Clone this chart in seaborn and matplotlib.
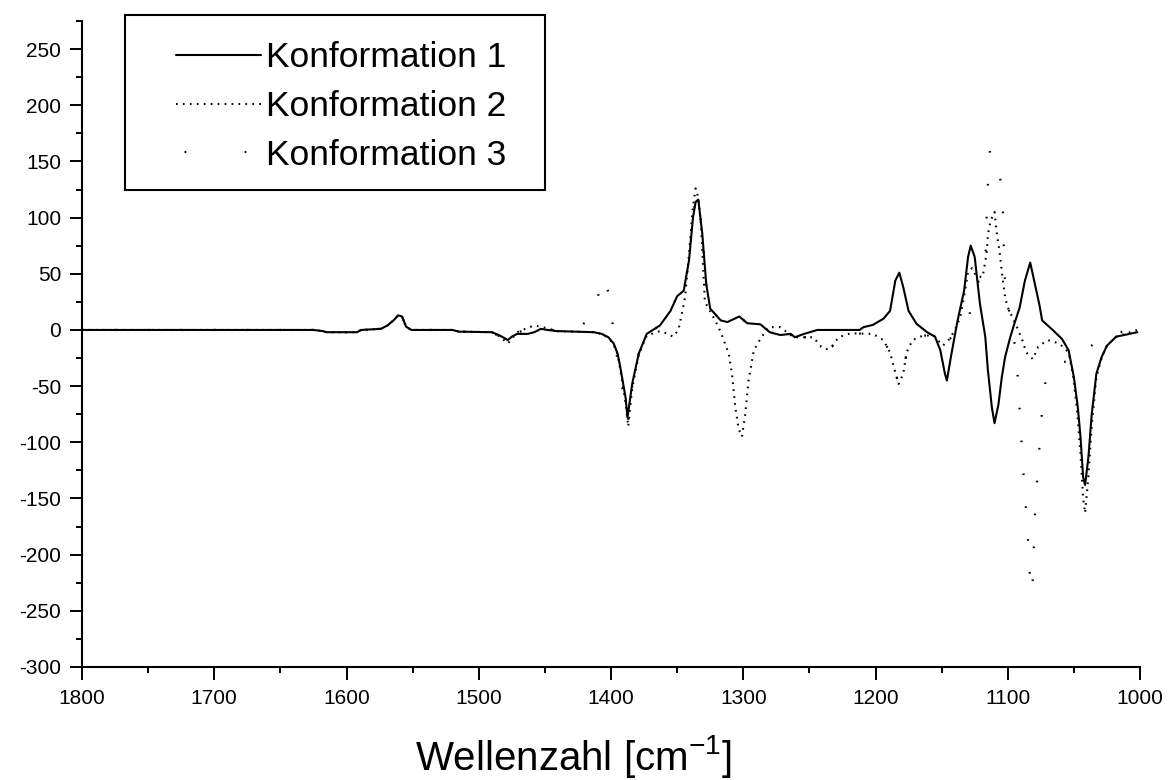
import matplotlib
matplotlib.use("Agg")
import matplotlib.pyplot as plt
from matplotlib.lines import Line2D
from matplotlib.patches import Rectangle
from matplotlib.ticker import MultipleLocator
import seaborn as sns
import pandas as pd

# Wavenumbers (cm^-1) and intensities of the three computed conformers
wn_konf1 = [1800, 1700, 1640, 1625, 1618, 1615, 1592, 1589, 1574, 1569, 1564, 1561,
            1558, 1555, 1551, 1520, 1515, 1490, 1484, 1478, 1475, 1471, 1463, 1458,
            1453, 1448, 1441, 1413, 1407, 1402, 1398, 1395, 1393, 1389, 1387.5, 1384,
            1379, 1373, 1363, 1355, 1350, 1345, 1341, 1338, 1336, 1334, 1331, 1328,
            1325, 1317, 1312, 1303, 1297, 1287, 1280, 1272, 1264, 1261, 1254, 1244,
            1227, 1212, 1209, 1202, 1194, 1189, 1185, 1182, 1179, 1175, 1169, 1161,
            1155, 1151, 1147.5, 1146, 1143, 1138, 1133, 1130, 1128, 1125, 1121, 1117,
            1115, 1112, 1110, 1107, 1104.5, 1102, 1098, 1095, 1091, 1087, 1083, 1079.5,
            1076, 1074, 1066, 1059, 1054, 1050, 1047, 1045, 1043, 1041.5, 1039, 1036.5,
            1033, 1029, 1025, 1018, 1010, 1002]
int_konf1 = [0, 0, 0, 0, -1, -2, -2, 0, 1, 4, 9, 13,
             12, 3, 0, 0, -1.5, -2, -5, -9, -6, -3.5, -3.5, -2,
             1, 0, -1, -2, -3.5, -6.5, -12, -21, -33, -60, -78, -48,
             -21, -3.5, 4, 17, 30, 35, 62, 100, 114, 116, 86, 41,
             19, 8.5, 7, 12, 6, 5, -2, -4.5, -3.5, -6.5, -3.5, 0,
             0, 0, 2.5, 4.5, 10, 17, 44, 51, 38, 17, 5.5, -2,
             -6, -18, -39, -45, -24, 8, 35, 65, 75, 65, 23, -6,
             -36, -69, -83, -66, -42, -24, -6, 5.5, 20, 44, 60, 41,
             22, 8.5, 0, -8, -18, -42, -69, -95, -131, -138, -113, -75,
             -39, -24, -14, -6, -4, -2]

wn_konf2 = [1800, 1700, 1640, 1625, 1618, 1615, 1592, 1589, 1574, 1569, 1564, 1561,
            1558, 1555, 1551, 1520, 1515, 1490, 1484, 1478, 1475, 1471, 1467, 1458,
            1450, 1441, 1413, 1407, 1402, 1398, 1395, 1393, 1389, 1387, 1384, 1379,
            1373, 1363, 1358, 1353, 1349, 1346, 1344, 1341, 1338, 1336, 1334, 1332,
            1329, 1321, 1317, 1311, 1308.5, 1306, 1303.5, 1301, 1298.5, 1296, 1292, 1287,
            1281, 1272, 1262, 1247, 1241, 1237, 1233, 1228, 1219, 1202, 1194, 1189,
            1187, 1185, 1182.5, 1179, 1176.5, 1172, 1164, 1156, 1149, 1144, 1140, 1136,
            1133, 1130, 1127, 1124, 1119, 1116, 1115, 1113, 1110, 1108.5, 1106, 1104,
            1102, 1100, 1096, 1092.5, 1089, 1086, 1081, 1077, 1070, 1061, 1054, 1050,
            1047, 1045, 1043, 1041.5, 1039, 1036.5, 1033, 1029, 1025, 1018, 1010, 1002]
int_konf2 = [0, 0, 0, 0, -1, -2, -2, 0, 1, 4, 9, 13,
             12, 3, 0, 0, -1.5, -2, -6, -12, -8, -2, 0, 4,
             2, -1, -2, -3.5, -7, -13, -22, -35, -65, -86, -52, -22,
             -5, -1, -3, -6, 0, 17, 29, 68, 110, 126, 118, 94,
             25, 8, -2, -21, -39, -69, -88, -95, -75, -45, -18, -8,
             2.5, 2.5, -6.5, -6.5, -15, -17, -15, -6.5, -3, -3.5, -9, -20,
             -29, -38, -48, -39, -20, -9, -5, -5, -14, -8, 0, 11,
             30, 52, 55, 48, 47, 68, 85, 97, 105, 88, 68, 47,
             29, 20, 10, 1, -9, -20, -26, -15, -9, -12, -20, -45,
             -80, -110, -150, -163, -130, -85, -42, -25, -14, -6, -3, 0]

wn_konf3 = [1800, 1700, 1640, 1625, 1618, 1615, 1592, 1589, 1574, 1569, 1564, 1561,
            1558, 1555, 1551, 1520, 1515, 1490, 1484, 1478, 1475, 1471, 1463, 1450,
            1441, 1430, 1424, 1416, 1411, 1406, 1403, 1400, 1396, 1393, 1389, 1387,
            1384, 1379, 1373, 1363, 1355, 1350, 1345, 1341, 1338, 1336, 1334, 1331,
            1328, 1325, 1317, 1312, 1303, 1297, 1287, 1280, 1272, 1262, 1247, 1241,
            1237, 1233, 1228, 1219, 1202, 1194, 1189, 1187, 1185, 1182.5, 1179, 1176.5,
            1172, 1164, 1156, 1149, 1144, 1140, 1130, 1124, 1119, 1117, 1116, 1115,
            1113.5, 1110, 1107, 1105, 1103.5, 1103, 1102.5, 1101, 1100, 1097, 1093, 1091.5,
            1090, 1088.5, 1085, 1083, 1081.5, 1080.5, 1080, 1077, 1074, 1071, 1065, 1055,
            1047, 1040, 1030, 1016, 1002]
int_konf3 = [0, 0, 0, 0, -1, -2, -2, 0, 1, 4, 9, 13,
             12, 3, 0, 0, -1.5, -2, -6, -12, -8, -2, 0, 2,
             -1, 0, 2.5, 10, 25, 47, 40, 17, -20, -40, -70, -80,
             -50, -21, -3.5, 4, 17, 30, 35, 62, 100, 118, 116, 86,
             41, 19, 8.5, 7, 12, 6, 5, -2, -4.5, -6.5, -6.5, -15,
             -17, -15, -6.5, -3, -3.5, -9, -20, -29, -38, -48, -39, -20,
             -9, -5, -5, -14, -8, -5, 8, 40, 48, 56, 100, 130,
             160, 150, 140, 131, 101, 72, 48, 38, 20, 11, -32, -61,
             -92, -121, -180, -225, -234, -204, -174, -120, -71, -41, -30, -28,
             -26, -17, -8, -2, 0]

labels = ["Konformation 1", "Konformation 2", "Konformation 3"]

df = pd.concat([
    pd.DataFrame({"Wellenzahl": wn_konf1, "Intensität": int_konf1, "Konformer": labels[0]}),
    pd.DataFrame({"Wellenzahl": wn_konf2, "Intensität": int_konf2, "Konformer": labels[1]}),
    pd.DataFrame({"Wellenzahl": wn_konf3, "Intensität": int_konf3, "Konformer": labels[2]}),
], ignore_index=True)

sns.set_theme(style="ticks")
plt.rcParams["font.family"] = ["Liberation Sans", "DejaVu Sans"]
plt.rcParams["mathtext.default"] = "regular"
plt.rcParams["lines.scale_dashes"] = False
plt.rcParams["axes.unicode_minus"] = False
for key in ("text.color", "axes.labelcolor", "xtick.color", "ytick.color", "axes.edgecolor"):
    plt.rcParams[key] = "black"

W, H = 1168, 780
fig = plt.figure(figsize=(W / 100, H / 100), dpi=100)
fig.patch.set_facecolor("white")
ax_l, ax_r, ax_t, ax_b = 82, 1140, 21, 667
ax = fig.add_axes([ax_l / W, 1 - ax_b / H, (ax_r - ax_l) / W, (ax_b - ax_t) / H])
ax.set_facecolor("white")

dot_fine = (0, (1.2, 3.8))
dot_sparse = (0, (1.2, 22.5))
styles = {
    labels[0]: dict(linestyle="-", linewidth=1.5),
    labels[1]: dict(linestyle=dot_fine, linewidth=1.5),
    labels[2]: dict(linestyle=dot_sparse, linewidth=1.6),
}
for name in [labels[2], labels[1], labels[0]]:
    sub = df[df["Konformer"] == name]
    sns.lineplot(data=sub, x="Wellenzahl", y="Intensität", ax=ax, color="black",
                 sort=False, estimator=None, legend=False, **styles[name])

ax.set_xlim(1800, 1000)
ax.set_ylim(-300, 275)
ax.xaxis.set_major_locator(MultipleLocator(100))
ax.xaxis.set_minor_locator(MultipleLocator(50))
ax.yaxis.set_major_locator(MultipleLocator(50))
ax.yaxis.set_minor_locator(MultipleLocator(25))
ax.set_ylabel("")
sns.despine(ax=ax)
for side in ("left", "bottom"):
    ax.spines[side].set_linewidth(1.5)
ax.tick_params(which="major", direction="out", length=9, width=1.4, labelsize=15)
ax.tick_params(which="minor", direction="out", length=4.5, width=1.4)
ax.tick_params(axis="y", pad=6)
ax.tick_params(axis="x", pad=7)

ax.set_xlabel("Wellenzahl [cm$^{-1}$]", fontsize=29, va="center")
ax.xaxis.set_label_coords((573 - ax_l) / (ax_r - ax_l), -(757 - ax_b) / (ax_b - ax_t))

# legend: framed box above the upper left part of the plot
handles = [
    Line2D([], [], color="black", linestyle="-", linewidth=1.5),
    Line2D([], [], color="black", linestyle=dot_fine, linewidth=1.5),
    Line2D([], [], color="black", linestyle=(37, (1.2, 42)), linewidth=1.6),
]
frame = Rectangle((125 / W, 1 - 190 / H), (545 - 125) / W, (190 - 15) / H,
                  transform=fig.transFigure, facecolor="white", edgecolor="black",
                  linewidth=1.5, zorder=4, clip_on=False)
ax.add_patch(frame)
leg = ax.legend(handles, labels, loc="upper left",
                bbox_to_anchor=(176 / W, 1 - 41 / H), bbox_transform=fig.transFigure,
                borderaxespad=0, borderpad=0, frameon=False, fontsize=25.5,
                handlelength=2.4, handletextpad=0.15, labelspacing=0.45)
leg.set_zorder(6)

fig.savefig("out.png", dpi=100, facecolor="white")
